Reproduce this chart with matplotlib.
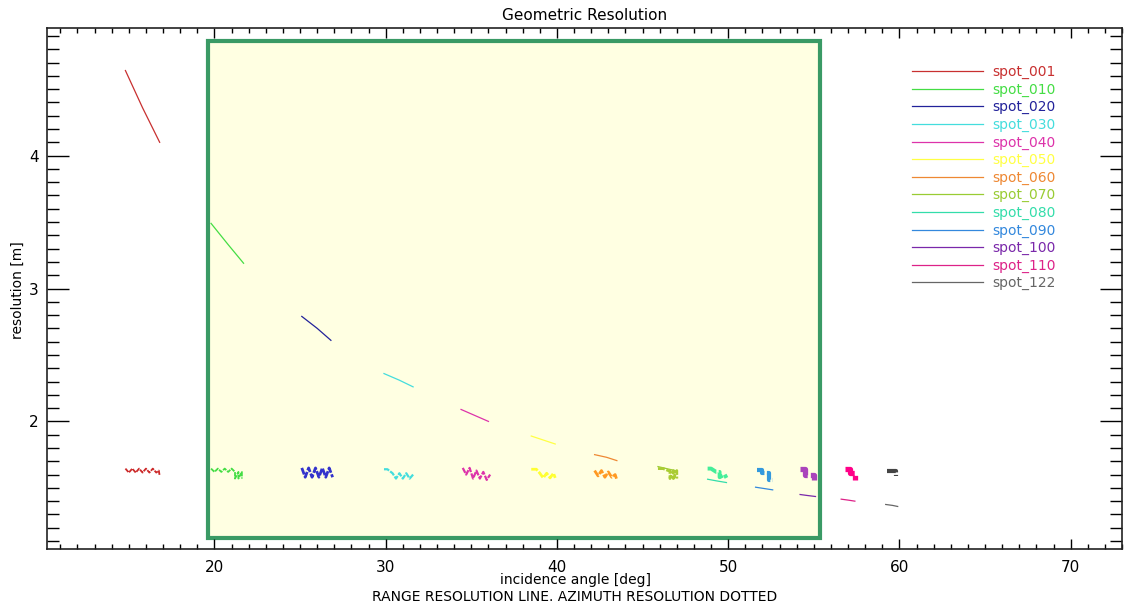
import matplotlib
matplotlib.use('Agg')
import matplotlib.pyplot as plt
from matplotlib.patches import Rectangle
from matplotlib.ticker import MultipleLocator


# Spot names and colours
spots = ['spot_001', 'spot_010', 'spot_020', 'spot_030', 'spot_040', 'spot_050', 'spot_060',
         'spot_070', 'spot_080', 'spot_090', 'spot_100', 'spot_110', 'spot_122']
colors = ['#c83030', '#44dd44', '#22229a', '#44dddd', '#dd33aa', '#ffff44', '#ee8833',
          '#99cc33', '#33ddaa', '#3388dd', '#7a28aa', '#dd2288', '#666666']
az_colors = ['#cc2a2a', '#44dd44', '#3333cc', '#44dddd', '#dd33aa', '#ffff33', '#ff9922',
             '#aacc33', '#44ee99', '#3399dd', '#aa44bb', '#ff0088', '#444444']

# Range resolution (solid lines): incidence angle vs resolution
rng_x = [[14.8, 15.8, 16.8], [19.8, 20.8, 21.7], [25.1, 26.0, 26.8], [29.9, 30.8, 31.6],
         [34.4, 35.2, 36.0], [38.5, 39.2, 39.9], [42.2, 42.9, 43.5], [45.9, 46.4, 46.9],
         [48.8, 49.3, 49.9], [51.6, 52.1, 52.6], [54.2, 54.6, 55.1], [56.6, 57.0, 57.4],
         [59.2, 59.6, 59.9]]
rng_y = [[4.64, 4.36, 4.10], [3.49, 3.33, 3.19], [2.79, 2.70, 2.61], [2.36, 2.31, 2.26],
         [2.09, 2.045, 2.00], [1.89, 1.86, 1.83], [1.75, 1.73, 1.705], [1.66, 1.645, 1.63],
         [1.565, 1.553, 1.54], [1.505, 1.495, 1.485], [1.45, 1.443, 1.435], [1.415, 1.408, 1.40],
         [1.375, 1.368, 1.36]]

# Azimuth resolution (dotted)
az_x = [[14.8, 15.0, 15.2, 15.4, 15.6, 15.8, 16.0, 16.2, 16.4, 16.6, 16.75, 16.8],
        [19.8, 20.0, 20.2, 20.4, 20.6, 20.8, 21.0, 21.2, 21.2, 21.4, 21.4, 21.6, 21.6],
        [25.1, 25.3, 25.5, 25.7, 25.9, 26.1, 26.3, 26.5, 26.7, 26.9],
        [29.9, 30.1, 30.4, 30.6, 30.8, 31.0, 31.2, 31.4, 31.6],
        [34.5, 34.7, 34.9, 35.1, 35.3, 35.5, 35.7, 35.9, 36.1],
        [38.5, 38.8, 39.0, 39.2, 39.4, 39.6, 39.8, 39.9],
        [42.2, 42.4, 42.6, 42.8, 43.0, 43.2, 43.4, 43.5],
        [45.9, 46.2, 46.5, 46.6, 46.6, 46.8, 46.8, 47.0, 47.0],
        [48.8, 49.0, 49.3, 49.5, 49.5, 49.8, 49.9],
        [51.7, 52.0, 52.0, 52.4, 52.4, 52.6],
        [54.2, 54.5, 54.5, 55.0, 55.0],
        [56.8, 57.1, 57.1, 57.4, 57.4],
        [59.3, 59.8, 59.8]]
az_y = [[1.645, 1.615, 1.645, 1.615, 1.645, 1.615, 1.645, 1.615, 1.645, 1.615, 1.63, 1.59],
        [1.645, 1.62, 1.645, 1.62, 1.645, 1.62, 1.645, 1.62, 1.57, 1.62, 1.57, 1.62, 1.57],
        [1.65, 1.58, 1.65, 1.58, 1.65, 1.58, 1.65, 1.58, 1.65, 1.58],
        [1.64, 1.64, 1.61, 1.57, 1.61, 1.57, 1.61, 1.57, 1.60],
        [1.65, 1.60, 1.65, 1.57, 1.63, 1.57, 1.62, 1.56, 1.60],
        [1.64, 1.64, 1.61, 1.575, 1.61, 1.575, 1.61, 1.575],
        [1.63, 1.59, 1.63, 1.58, 1.62, 1.58, 1.60, 1.56],
        [1.645, 1.645, 1.63, 1.63, 1.57, 1.63, 1.57, 1.63, 1.57],
        [1.645, 1.645, 1.62, 1.62, 1.58, 1.60, 1.575],
        [1.635, 1.635, 1.61, 1.61, 1.56, 1.56],
        [1.64, 1.64, 1.60, 1.60, 1.56],
        [1.645, 1.645, 1.61, 1.61, 1.56],
        [1.63, 1.63, 1.59]]
az_width = [1.3, 1.3, 2.0, 1.6, 1.6, 2.0, 2.0, 2.0, 2.8, 3.0, 3.8, 3.8, 3.0]

# Highlighted region
box_x = [19.65, 55.35]
box_y = [1.12, 4.86]

fig = plt.figure(figsize=(11.29, 6.09), dpi=100)
ax = fig.add_axes([47 / 1129, 60 / 609, 1075 / 1129, 521 / 609])

ax.add_patch(Rectangle((box_x[0], box_y[0]), box_x[1] - box_x[0], box_y[1] - box_y[0],
                       facecolor='#ffffe2', edgecolor='#3a9a65', linewidth=3, zorder=1))

for i in range(len(spots)):
    ax.plot(rng_x[i], rng_y[i], color=colors[i], lw=0.9, label=spots[i], zorder=3)
    ax.plot(az_x[i], az_y[i], color=az_colors[i], lw=az_width[i], linestyle=(0, (2.5, 0.6)),
            solid_capstyle='butt', zorder=3)

ax.set_xlim(10.22, 73.0)
ax.set_ylim(1.04, 4.96)
ax.xaxis.set_major_locator(MultipleLocator(10))
ax.xaxis.set_minor_locator(MultipleLocator(1))
ax.yaxis.set_major_locator(MultipleLocator(1))
ax.yaxis.set_minor_locator(MultipleLocator(0.1))
ax.tick_params(axis='x', which='major', direction='in', length=7.2, width=1, top=True, labelsize=11, pad=8)
ax.tick_params(axis='x', which='minor', direction='in', length=3.6, width=1, top=True)
ax.tick_params(axis='y', which='major', direction='in', length=16, width=1, right=True, labelsize=11, pad=6)
ax.tick_params(axis='y', which='minor', direction='in', length=8.5, width=1, right=True)
for s in ax.spines.values():
    s.set_linewidth(1.2)
    s.set_color('#222222')
ax.set_yticks([2, 3, 4])
ax.set_yticklabels(['2', '3', '4'])

ax.set_title('Geometric Resolution', fontsize=11, pad=6)
fig.text(575 / 1129, 1 - 580 / 609, 'incidence angle [deg]', ha='center', va='center', fontsize=10)
fig.text(575 / 1129, 1 - 597 / 609, 'RANGE RESOLUTION LINE. AZIMUTH RESOLUTION DOTTED',
         ha='center', va='center', fontsize=10)
fig.text(18 / 1129, 1 - 290 / 609, 'resolution [m]', rotation=90, ha='center', va='center', fontsize=10)

leg = ax.legend(loc='upper left', bbox_to_anchor=(912 / 1129, 1 - 65 / 609),
                bbox_transform=fig.transFigure, frameon=False, fontsize=10,
                handlelength=5.1, handletextpad=0.7, labelspacing=0.25,
                borderpad=0, borderaxespad=0, labelcolor='linecolor')

fig.savefig('out.png', dpi=100)
